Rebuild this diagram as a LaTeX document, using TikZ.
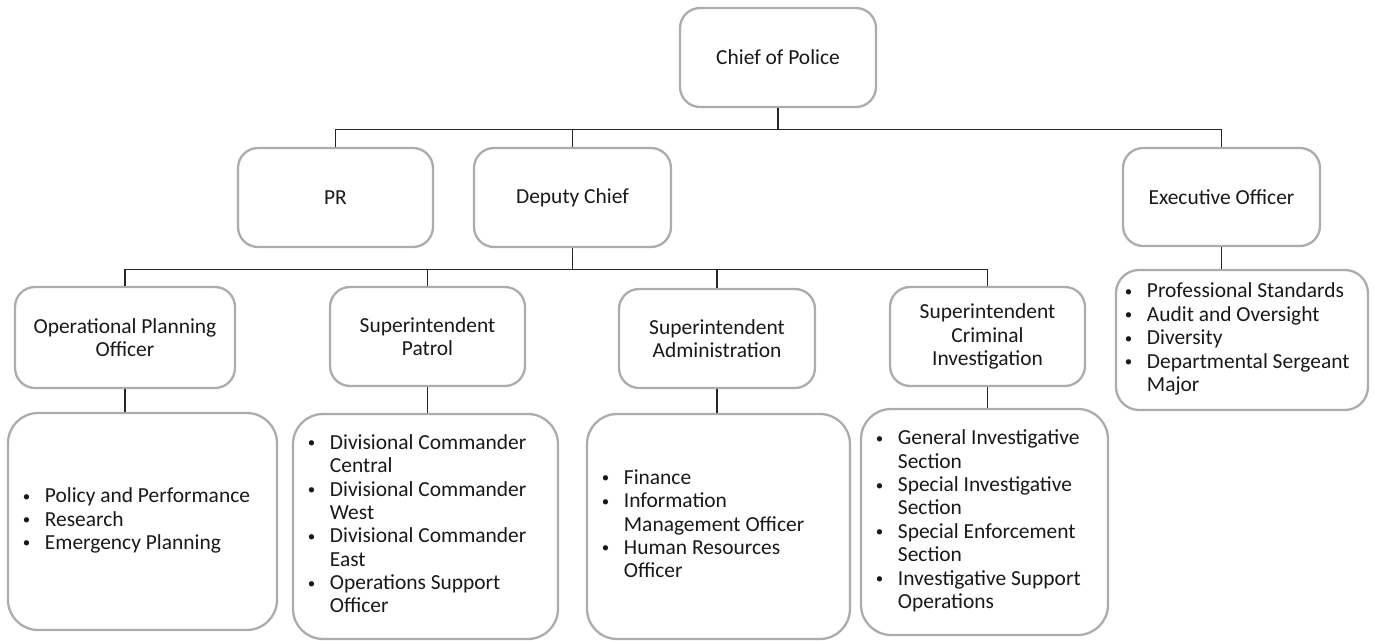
\documentclass[tikz,border=0pt]{standalone}
\usepackage{fontspec}
\setmainfont{Carlito}

\newcommand{\orgdot}{\hspace{1pt}\raisebox{0.9pt}{\fontsize{8.5}{8.5}\selectfont\textbullet}}
\newcommand{\orglist}[1]{\noindent\spaceskip=0pt\xspaceskip=0pt\begin{tabular}{@{}p{13.6pt}@{}l@{}}#1\end{tabular}}

\tikzset{
  post/.style={draw=gray!65, line width=1.3pt, rounded corners=0.4cm, fill=white,
    text=black!90, align=center, inner sep=0pt,
    font=\fontsize{12.2}{13.3}\selectfont},
  duties/.style={post, rounded corners=0.6cm, align=left, inner xsep=0.26cm},
  link/.style={draw=black!85, line width=0.7pt},
}

\begin{document}
\begin{tikzpicture}[x=0.02cm, y=-0.02cm]
		\useasboundingbox (0,0) rectangle (1377,641);
		% top
		\node[post, minimum width=3.92cm, minimum height=1.98cm] (chief) at (778,57.5) {Chief of Police};
		% second row
		\node[post, minimum width=3.9cm, minimum height=1.98cm] (pr) at (335.5,197.5) {PR};
		\node[post, minimum width=3.94cm, minimum height=1.98cm] (deputy) at (572.5,197.5) {Deputy Chief};
		\node[post, minimum width=3.94cm, minimum height=1.96cm] (exec) at (1221.5,197) {Executive Officer};
		% third row
		\node[post, minimum width=4.4cm, minimum height=2.02cm] (opplan) at (125,337.5) {Operational Planning\\Officer};
		\node[post, minimum width=3.9cm, minimum height=1.98cm] (patrol) at (427.5,336.5) {Superintendent\\Patrol};
		\node[post, minimum width=3.92cm, minimum height=1.98cm] (admin) at (717,338.5) {Superintendent\\Administration};
		\node[post, minimum width=3.9cm, minimum height=1.98cm] (crim) at (987.5,336.5) {Superintendent\\Criminal\\Investigation};
		% duty lists
		\node[duties, rounded corners=0.46cm, inner xsep=0.14cm, text width=4.76cm, minimum height=2.8cm] (execlist) at (1242,340) {\orglist{
			\orgdot & Professional Standards\\
			\orgdot & Audit and Oversight\\
			\orgdot & Diversity\\
			\orgdot & Departmental Sergeant\\
			 & Major}};
		\node[duties, text width=4.86cm, minimum height=4.34cm] (oplist) at (142.5,521.5) {\orglist{
			\orgdot & Policy and Performance\\
			\orgdot & Research\\
			\orgdot & Emergency Planning}};
		\node[duties, text width=4.78cm, minimum height=4.5cm] (patlist) at (425.5,526.5) {\orglist{
			\orgdot & Divisional Commander\\
			 & Central\\
			\orgdot & Divisional Commander\\
			 & West\\
			\orgdot & Divisional Commander\\
			 & East\\
			\orgdot & Operations Support\\
			 & Officer}};
		\node[duties, text width=4.74cm, minimum height=4.5cm] (admlist) at (718.5,526.5) {\orglist{
			\orgdot & Finance\\
			\orgdot & Information\\
			 & Management Officer\\
			\orgdot & Human Resources\\
			 & Officer}};
		\node[duties, text width=4.42cm, minimum height=4.52cm] (crimlist) at (984.5,522) {\orglist{
			\orgdot & General Investigative\\
			 & Section\\
			\orgdot & Special Investigative\\
			 & Section\\
			\orgdot & Special Enforcement\\
			 & Section\\
			\orgdot & Investigative Support\\
			 & Operations}};
		% connectors
		\draw[link] (chief.south) -- ++(0,21) coordinate (topbus);
		\foreach \n in {pr, deputy, exec}
			\draw[link] (topbus) -| (\n.north);
		\draw[link] (deputy.south) -- ++(0,21) coordinate (midbus);
		\foreach \n in {opplan, patrol, admin, crim}
			\draw[link] (midbus) -| (\n.north);
		\foreach \a/\b in {opplan/oplist, patrol/patlist, admin/admlist, crim/crimlist, exec/execlist}
			\draw[link] (\a.south) -- (\a.south |- \b.north);
	\end{tikzpicture}
\end{document}
